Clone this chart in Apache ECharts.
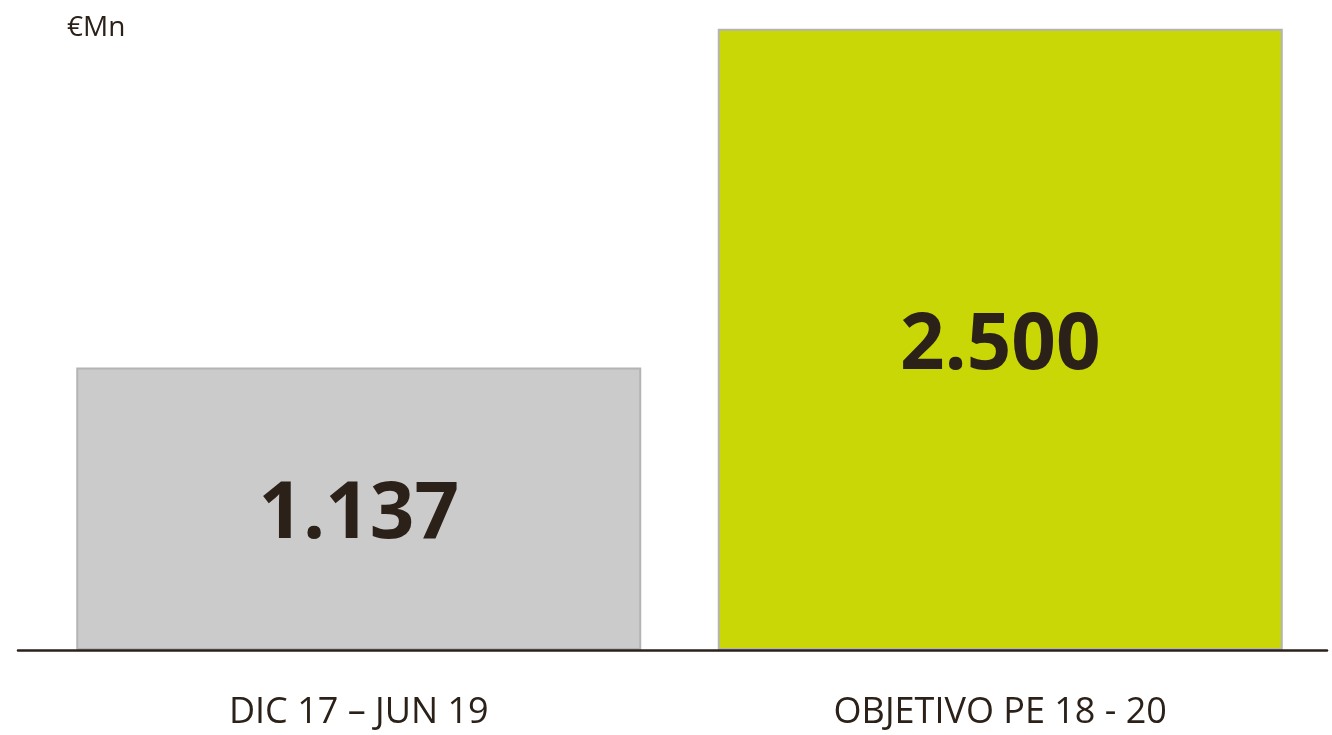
<!DOCTYPE html>
<html>
<head>
<meta charset="utf-8">
<script src="https://cdn.jsdelivr.net/npm/echarts@6/dist/echarts.min.js"></script>
<style>
  html, body { margin: 0; padding: 0; background: #ffffff; }
  #chart { width: 1332px; height: 735px; }
</style>
</head>
<body>
<div id="chart"></div>
<script>
// Periods compared and the amount for each one (€ millions)
const categories = ['DIC 17 – JUN 19', 'OBJETIVO PE 18 - 20'];
const values = [1137, 2500];
const barColors = ['#cbcbcb', '#c8d705'];
const unitLabel = '€Mn';

const ink = '#2b2119';

// Spanish thousands separator: 2500 -> "2.500"
function fmtEs(v) {
  return String(Math.round(v)).replace(/\B(?=(\d{3})+(?!\d))/g, '.');
}

const chart = echarts.init(document.getElementById('chart'), null, { renderer: 'canvas' });

chart.setOption({
  backgroundColor: '#ffffff',
  animation: false,
  title: {
    text: unitLabel,
    left: 62,
    top: 9,
    textStyle: { fontFamily: 'Open Sans', fontSize: 28, fontWeight: 'normal', color: ink }
  },
  grid: [
    // full-width baseline
    { left: 18, right: 5, top: 4, bottom: 85 },
    // bars
    { left: 38, right: 11, top: 4, bottom: 85 }
  ],
  xAxis: [
    {
      type: 'category', gridIndex: 0, data: [''], z: 10,
      axisLine: { show: true, lineStyle: { color: ink, width: 2.5 } },
      axisTick: { show: false }, axisLabel: { show: false }, splitLine: { show: false }
    },
    {
      type: 'category', gridIndex: 1, data: categories,
      axisLine: { show: false }, axisTick: { show: false },
      axisLabel: {
        margin: 45,
        fontFamily: 'Open Sans', fontSize: 36, color: ink
      }
    }
  ],
  yAxis: [
    { type: 'value', gridIndex: 0, min: 0, max: 2600, show: false },
    { type: 'value', gridIndex: 1, min: 0, max: 2600, show: false }
  ],
  series: [
    {
      type: 'bar', xAxisIndex: 0, yAxisIndex: 0, data: [], silent: true
    },
    {
      type: 'bar', xAxisIndex: 1, yAxisIndex: 1,
      barWidth: 565,
      data: values.map((v, i) => ({
        value: v,
        itemStyle: { color: barColors[i], borderColor: '#b4b4b4', borderWidth: 2 }
      })),
      label: {
        show: true,
        position: 'inside',
        offset: [0, 7],
        formatter: p => fmtEs(p.value),
        fontFamily: 'Open Sans', fontWeight: 'bold', fontSize: 78, color: ink
      }
    }
  ]
});
</script>
</body>
</html>
